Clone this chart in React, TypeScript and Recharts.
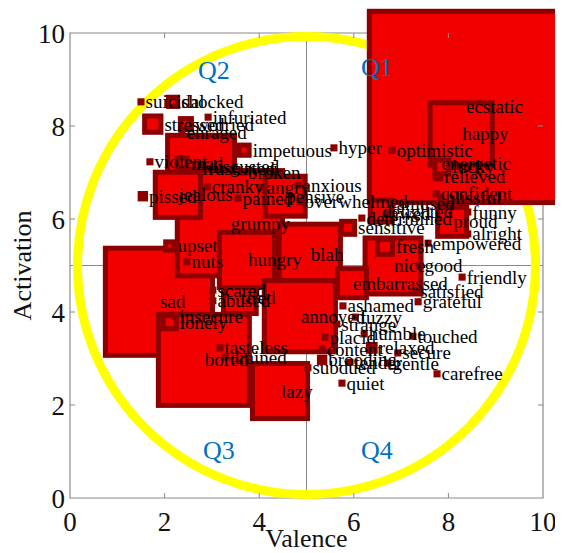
import React from 'react';
import { ScatterChart, Scatter, XAxis, YAxis, ReferenceLine, ReferenceArea, ReferenceDot } from 'recharts';

const words = [
  'hyper', 'ecstatic', 'happy', 'optimistic', 'energetic', 'lucky', 'relieved', 'confident', 'blissful',
  'frustrated', 'sad', 'grumpy', 'pensive', 'jealous', 'bored', 'tired', 'hungry', 'blah', 'annoyed', 'lazy',
  'nice', 'embarrassed', 'delighted', 'proud', 'fresh', 'sensitive',
  'suicidal', 'shocked', 'infuriated', 'stressed', 'worried', 'enraged', 'mad', 'violent', 'disgusted',
  'broken', 'impetuous', 'angry', 'cranky', 'pissed', 'pained', 'anxious', 'overwhelmed', 'upset', 'nuts',
  'lonely', 'insecure', 'scared', 'abused', 'tasteless', 'drained',
  'amused', 'awed', 'determined', 'funny', 'alright', 'empowered', 'good', 'friendly', 'satisfied', 'grateful',
  'ashamed', 'fuzzy', 'strange', 'placid', 'humble', 'touched', 'content', 'relaxed', 'secure', 'tender',
  'gentle', 'subdued', 'brooding', 'carefree', 'quiet',
];
const valence = [
  5.58, 8.35, 8.27, 6.81, 7.76, 7.86, 7.78, 7.74, 7.84,
  2.77, 1.88, 3.38, 4.55, 2.28, 2.83, 3.59, 3.74, 5.07, 4.86, 4.44,
  6.83, 5.96, 6.58, 8.08, 6.66, 5.88,
  1.5, 2.18, 2.92, 1.75, 2.45, 2.37, 2.37, 1.69, 2.81,
  3.66, 3.68, 4.06, 2.9, 1.54, 3.55, 4.82, 4.86, 2.11, 2.47,
  2.11, 2.22, 3.02, 3.02, 3.17, 3.28,
  6.81, 6.68, 6.17, 8.41, 8.41, 7.57, 7.4, 8.29, 7.31, 7.36,
  5.77, 6.03, 5.64, 5.39, 6.22, 7.25, 5.33, 6.38, 6.93, 5.92,
  6.72, 5.03, 5.33, 7.76, 5.75,
];
const activation = [
  7.53, 8.41, 7.83, 7.48, 7.2, 7.12, 6.92, 6.54, 6.47,
  7.08, 4.22, 5.91, 6.49, 6.52, 2.97, 4.32, 5.12, 5.23, 3.91, 2.3,
  4.99, 4.62, 6.17, 5.94, 5.4, 5.81,
  8.52, 8.52, 8.19, 8.04, 8.04, 7.85, 7.2, 7.23, 7.12,
  7.01, 7.48, 6.67, 6.69, 6.49, 6.45, 6.73, 6.37, 5.42, 5.08,
  3.78, 3.91, 4.47, 4.24, 3.23, 3.03,
  6.34, 6.11, 6.02, 6.15, 5.68, 5.48, 4.99, 4.75, 4.45, 4.22,
  4.13, 3.89, 3.74, 3.46, 3.53, 3.48, 3.2, 3.23, 3.12, 2.92,
  2.9, 2.8, 2.97, 2.67, 2.47,
];
// side of each square, in valence units
const sizes = [
  0.15, 4.15, 1.42, 0.15, 0.15, 0.4, 0.22, 0.15, 0.15,
  1.52, 2.37, 2.33, 0.95, 1.06, 2.03, 0.8, 1.27, 1.4, 1.61, 1.27,
  1.29, 0.72, 0.57, 0.72, 0.42, 0.38,
  0.15, 0.3, 0.15, 0.45, 0.34, 0.15, 0.32, 0.15, 0.15,
  0.15, 0.32, 0.15, 0.15, 0.22, 0.15, 0.15, 0.15, 0.28, 0.15,
  0.38, 0.15, 0.15, 0.15, 0.15, 0.15,
  0.15, 0.15, 0.15, 0.15, 0.15, 0.15, 0.15, 0.15, 0.15, 0.15,
  0.15, 0.15, 0.15, 0.15, 0.15, 0.15, 0.15, 0.25, 0.15, 0.15,
  0.15, 0.15, 0.22, 0.15, 0.15,
];

const quadNames = ['Q1', 'Q2', 'Q3', 'Q4'];
const quadValence = [6.49, 3.04, 3.15, 6.49];
const quadActivation = [9.25, 9.2, 1.03, 1.03];

const axisTicks = [0, 2, 4, 6, 8, 10];

const UNIT = 47.3; // pixels per valence unit
const PLOT_H = 465;
const PLOT_W = 473;
const SERIF = '"Liberation Serif", "Times New Roman", serif';

const points = words.map((w, i) => ({ word: w, v: valence[i], a: activation[i], s: sizes[i] }));
const quads = quadNames.map((q, i) => ({ name: q, v: quadValence[i], a: quadActivation[i] }));

const SquareMark = (props: any) => {
  const { cx, cy, payload } = props;
  const side = payload.s * UNIT;
  if (side < 12) {
    return <rect x={cx - side / 2} y={cy - side / 2} width={side} height={side} fill="#8c0000" />;
  }
  const bw = 5;
  return (
    <rect
      x={cx - side / 2 + bw / 2}
      y={cy - side / 2 + bw / 2}
      width={side - bw}
      height={side - bw}
      fill="#f20000"
      stroke="#8c0000"
      strokeWidth={bw}
    />
  );
};

const WordLabel = (props: any) => {
  const { cx, cy, payload } = props;
  const side = payload.s * UNIT;
  const dx = side < 25 ? side / 2 + 1 : 1;
  return (
    <text x={cx + dx} y={cy} dominantBaseline="central" fontSize={19} fontFamily={SERIF} fill="#000">
      {payload.word}
    </text>
  );
};

const QuadLabel = (props: any) => {
  const { cx, cy, payload } = props;
  return (
    <text x={cx} y={cy} textAnchor="middle" dominantBaseline="central" fontSize={26} fontFamily={SERIF} fill="#0070c0">
      {payload.name}
    </text>
  );
};

// tick text plus small inward tick marks on both opposite sides, MATLAB style
const XTick = (props: any) => {
  const { x, y, payload } = props;
  const axisY = y - 14;
  const inner = payload.value > 0 && payload.value < 10;
  return (
    <g>
      {inner && <line x1={x} x2={x} y1={axisY} y2={axisY - 5} stroke="#8a8a8a" />}
      {inner && <line x1={x} x2={x} y1={axisY - PLOT_H} y2={axisY - PLOT_H + 5} stroke="#8a8a8a" />}
      <text x={x} y={y} dy="0.71em" textAnchor="middle" fontSize={27} fontFamily={SERIF} fill="#111">
        {payload.value}
      </text>
    </g>
  );
};

const YTick = (props: any) => {
  const { x, y, payload } = props;
  const axisX = x + 5;
  const inner = payload.value > 0 && payload.value < 10;
  return (
    <g>
      {inner && <line x1={axisX} x2={axisX + 5} y1={y} y2={y} stroke="#8a8a8a" />}
      {inner && <line x1={axisX + PLOT_W} x2={axisX + PLOT_W - 5} y1={y} y2={y} stroke="#8a8a8a" />}
      <text x={x} y={y} dy="0.355em" textAnchor="end" fontSize={27} fontFamily={SERIF} fill="#111">
        {payload.value}
      </text>
    </g>
  );
};

const YTitle = (props: any) => {
  const vb = props.viewBox || { x: 12, y: 25, width: 50, height: 465 };
  const x = vb.x + 2;
  const y = vb.y + vb.height / 2;
  return (
    <text x={x} y={y} transform={`rotate(-90 ${x} ${y})`} textAnchor="middle" dominantBaseline="central"
      fontSize={26} fontFamily={SERIF} fill="#111">
      Activation
    </text>
  );
};

export default function App() {
  return (
    <ScatterChart width={555} height={545} margin={{ top: 25, right: 20, bottom: 0, left: 12 }}>
      <XAxis
        type="number"
        dataKey="v"
        domain={[0, 10]}
        ticks={axisTicks}
        height={55}
        axisLine={false}
        tickLine={false}
        tickSize={0}
        tickMargin={14}
        tick={<XTick />}
        label={{ value: 'Valence', position: 'insideBottom', offset: 6, fontSize: 26, fontFamily: SERIF, fill: '#111' }}
      />
      <YAxis
        type="number"
        dataKey="a"
        domain={[0, 10]}
        ticks={axisTicks}
        width={50}
        axisLine={false}
        tickLine={false}
        tickSize={0}
        tickMargin={5}
        tick={<YTick />}
        label={<YTitle />}
      />
      <ReferenceArea x1={0} x2={10} y1={0} y2={10} fill="none" stroke="#8a8a8a" strokeWidth={1.2} fillOpacity={0} />
      <ReferenceLine x={5} stroke="#8a8a8a" strokeWidth={1} />
      <ReferenceLine y={5} stroke="#8a8a8a" strokeWidth={1} />
      <ReferenceDot x={5} y={5} r={229} fill="none" stroke="#ffff00" strokeWidth={9} />
      <Scatter data={points} shape={SquareMark} isAnimationActive={false} />
      <Scatter data={points} shape={WordLabel} isAnimationActive={false} />
      <Scatter data={quads} shape={QuadLabel} isAnimationActive={false} />
    </ScatterChart>
  );
}
